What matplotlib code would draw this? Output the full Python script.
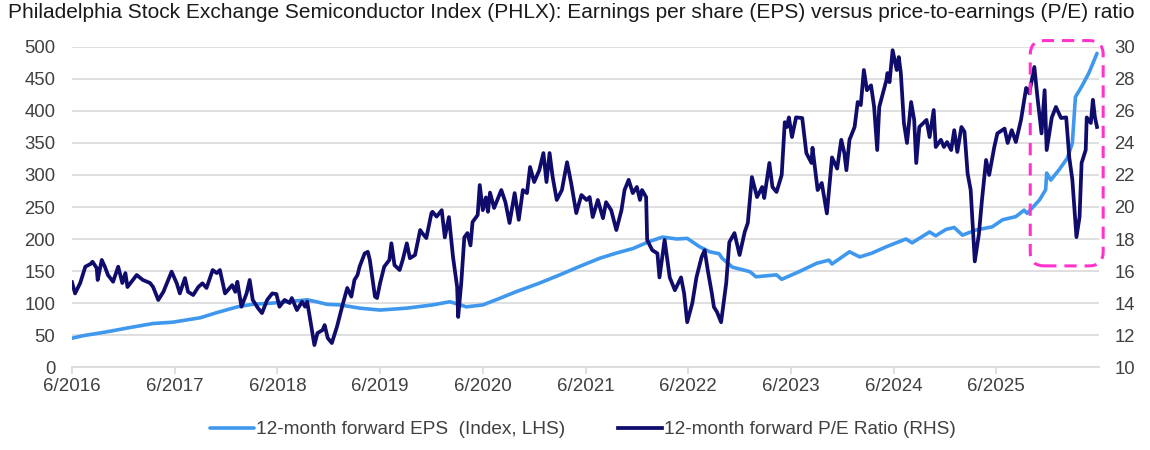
import matplotlib
matplotlib.use("Agg")
import matplotlib.pyplot as plt
from matplotlib.patches import FancyBboxPatch
from matplotlib.transforms import IdentityTransform

plt.rcParams["font.family"] = ["Liberation Sans", "DejaVu Sans"]

# time axis: years since 6/2016
EPS_T = [0.00, 0.11, 0.34, 0.54, 0.79, 0.98, 1.25, 1.41, 1.61, 1.76, 1.96, 2.29, 2.38, 2.48,
         2.61, 2.80, 3.00, 3.26, 3.51, 3.68, 3.84, 4.00, 4.16, 4.33, 4.55, 4.75, 4.94, 5.14,
         5.30, 5.46, 5.62, 5.75, 5.89, 5.99, 6.11, 6.21, 6.30, 6.33, 6.43, 6.60, 6.66, 6.86,
         6.91, 7.08, 7.25, 7.37, 7.40, 7.57, 7.67, 7.79, 7.93, 8.12, 8.18, 8.35, 8.41, 8.51,
         8.59, 8.67, 8.80, 8.96, 9.06, 9.19, 9.27, 9.30, 9.42, 9.48, 9.49, 9.53, 9.61, 9.69,
         9.74, 9.77, 9.83, 9.90, 9.98]
EPS = [45, 49, 55, 61, 68, 70, 77, 85, 94, 98, 100, 105, 102, 98,
       97, 92, 89, 92, 97, 102, 94, 97, 107, 118, 131, 144, 157, 170,
       178, 185, 196, 203, 200, 201, 188, 180, 177, 170, 156, 149, 141, 144,
       137, 149, 162, 167, 161, 180, 172, 178, 188, 200, 194, 211, 205, 215,
       218, 206, 214, 219, 230, 235, 245, 240, 261, 277, 303, 292, 308, 326,
       350, 422, 438, 459, 490]

PE_T = [0.00, 0.03, 0.08, 0.13, 0.18, 0.20, 0.24, 0.25, 0.29, 0.32, 0.35, 0.40, 0.45, 0.49,
        0.52, 0.54, 0.63, 0.69, 0.76, 0.79, 0.84, 0.89, 0.97, 1.02, 1.05, 1.10, 1.13, 1.18,
        1.23, 1.27, 1.31, 1.37, 1.41, 1.44, 1.49, 1.56, 1.59, 1.61, 1.65, 1.70, 1.73, 1.76,
        1.81, 1.85, 1.90, 1.95, 1.99, 2.02, 2.07, 2.12, 2.14, 2.19, 2.24, 2.27, 2.29, 2.32,
        2.36, 2.39, 2.44, 2.46, 2.49, 2.53, 2.58, 2.63, 2.68, 2.72, 2.75, 2.78, 2.80, 2.85,
        2.88, 2.90, 2.95, 2.97, 3.00, 3.04, 3.09, 3.11, 3.14, 3.19, 3.22, 3.26, 3.29, 3.34,
        3.39, 3.41, 3.45, 3.50, 3.51, 3.55, 3.60, 3.63, 3.67, 3.71, 3.75, 3.76, 3.79, 3.82,
        3.85, 3.88, 3.90, 3.95, 3.97, 4.00, 4.03, 4.05, 4.07, 4.11, 4.18, 4.22, 4.26, 4.31,
        4.35, 4.39, 4.43, 4.46, 4.50, 4.55, 4.59, 4.62, 4.65, 4.68, 4.72, 4.77, 4.82, 4.86,
        4.91, 4.96, 5.01, 5.04, 5.07, 5.12, 5.17, 5.20, 5.25, 5.30, 5.35, 5.38, 5.42, 5.46,
        5.50, 5.53, 5.55, 5.59, 5.60, 5.65, 5.70, 5.72, 5.77, 5.82, 5.87, 5.93, 5.96, 5.99,
        6.04, 6.08, 6.13, 6.16, 6.19, 6.23, 6.25, 6.28, 6.32, 6.37, 6.40, 6.45, 6.50, 6.55,
        6.58, 6.62, 6.67, 6.72, 6.74, 6.79, 6.82, 6.86, 6.91, 6.94, 6.96, 6.98, 7.01, 7.05,
        7.11, 7.15, 7.20, 7.21, 7.26, 7.30, 7.35, 7.40, 7.45, 7.49, 7.52, 7.54, 7.57, 7.62,
        7.65, 7.68, 7.71, 7.74, 7.78, 7.81, 7.84, 7.86, 7.93, 7.94, 7.96, 7.99, 8.03, 8.05,
        8.07, 8.10, 8.13, 8.17, 8.20, 8.22, 8.25, 8.32, 8.35, 8.39, 8.41, 8.46, 8.49, 8.52,
        8.56, 8.59, 8.62, 8.66, 8.69, 8.72, 8.75, 8.79, 8.83, 8.86, 8.90, 8.93, 8.98, 9.01,
        9.08, 9.11, 9.15, 9.19, 9.24, 9.29, 9.32, 9.37, 9.40, 9.44, 9.47, 9.49, 9.54, 9.58,
        9.63, 9.68, 9.71, 9.74, 9.78, 9.81, 9.83, 9.87, 9.88, 9.92, 9.94, 9.96, 9.98]
PE = [15.3, 14.6, 15.25, 16.27, 16.44, 16.58, 16.19, 15.44, 16.69, 16.27, 15.75, 15.33, 16.27, 15.25,
      15.87, 15.0, 15.75, 15.44, 15.25, 15.0, 14.19, 14.7, 15.96, 15.23, 14.6, 15.56, 14.7, 14.5,
      15.0, 15.23, 14.94, 16.06, 15.87, 16.06, 14.6, 15.12, 14.7, 15.33, 13.77, 14.6, 15.44, 14.19,
      13.69, 13.37, 14.19, 14.6, 14.56, 13.77, 14.19, 14.0, 14.31, 13.56, 14.08, 13.77, 14.08, 12.94,
      11.37, 12.12, 12.31, 12.62, 11.81, 11.5, 12.52, 13.77, 14.94, 14.4, 15.44, 15.75, 16.27, 17.1,
      17.2, 16.69, 14.4, 14.31, 15.25, 16.27, 16.69, 17.73, 16.37, 16.06, 16.69, 17.73, 16.8, 17.0,
      18.56, 18.37, 18.06, 19.62, 19.7, 19.4, 19.8, 18.1, 19.37, 16.87, 15.0, 13.13, 15.25, 18.1,
      18.37, 17.6, 19.06, 19.5, 21.37, 19.8, 20.6, 19.7, 20.9, 19.94, 21.06, 20.3, 19.0, 20.87,
      19.2, 21.06, 20.87, 22.5, 21.56, 22.3, 23.37, 21.56, 23.37, 21.87, 20.44, 21.06, 22.8, 21.5,
      19.62, 20.75, 20.44, 20.62, 19.37, 20.44, 19.3, 20.3, 19.8, 18.56, 19.8, 21.06, 21.7, 20.87,
      21.25, 20.44, 21.06, 20.62, 17.94, 17.3, 17.1, 15.6, 17.94, 15.6, 14.8, 15.6, 14.6, 12.8,
      14.0, 15.6, 16.87, 17.3, 16.06, 14.6, 13.75, 13.44, 12.8, 15.25, 17.8, 18.37, 17.0, 18.44,
      19.0, 21.87, 20.62, 21.25, 20.56, 22.75, 21.25, 20.94, 22.0, 25.3, 25.0, 25.6, 24.37, 25.6,
      25.56, 23.37, 22.75, 23.7, 21.06, 21.5, 19.6, 23.1, 22.4, 24.2, 23.37, 22.3, 24.2, 25.0,
      26.56, 26.37, 28.56, 27.3, 27.6, 26.25, 23.56, 26.25, 27.94, 28.37, 27.8, 29.8, 28.56, 29.37,
      28.37, 25.25, 24.0, 26.56, 25.44, 22.75, 25.0, 25.44, 24.37, 26.06, 23.75, 24.2, 23.75, 24.06,
      23.56, 24.8, 23.44, 25.0, 24.7, 22.1, 21.06, 16.6, 18.3, 20.44, 22.94, 22.0, 23.75, 24.6,
      24.9, 24.0, 24.8, 24.06, 25.44, 27.44, 27.1, 28.75, 26.87, 24.6, 27.3, 23.56, 25.6, 26.25,
      25.56, 25.6, 23.1, 21.7, 18.12, 19.37, 22.75, 23.56, 25.6, 25.25, 26.7, 25.6, 25.0]

X_LABELS = ["6/2016", "6/2017", "6/2018", "6/2019", "6/2020",
            "6/2021", "6/2022", "6/2023", "6/2024", "6/2025"]

TITLE = ("Philadelphia Stock Exchange Semiconductor Index (PHLX): Earnings per share (EPS) "
         "versus price-to-earnings (P/E) ratio")

EPS_COLOR = "#3F98EE"
PE_COLOR = "#100C6C"
GRID = "#D9D9D9"
TXT = "#404040"

fig = plt.figure(figsize=(11.5, 4.5), dpi=100)
ax = fig.add_axes([0.0626, 0.1844, 0.8931, 0.7112])
ax2 = ax.twinx()

ax.plot(EPS_T, EPS, color=EPS_COLOR, lw=2.6, solid_capstyle="round", label="12-month forward EPS  (Index, LHS)")
ax2.plot(PE_T, PE, color=PE_COLOR, lw=2.7, solid_joinstyle="round", label="12-month forward P/E Ratio (RHS)")

ax.set_xlim(0, 10.0)
ax.set_ylim(0, 500)
ax2.set_ylim(10, 30)
ax.set_yticks(range(0, 501, 50))
ax2.set_yticks(range(10, 31, 2))
ax.set_xticks(range(len(X_LABELS)))
ax.set_xticklabels(X_LABELS)

for a in (ax, ax2):
    for s in a.spines.values():
        s.set_visible(False)
ax.spines["bottom"].set_visible(True)
ax.spines["bottom"].set_color(GRID)
ax.spines["bottom"].set_linewidth(1.2)

ax.grid(axis="y", color=GRID, lw=1.2)
ax.set_axisbelow(True)
ax.tick_params(axis="y", length=0, pad=12, labelsize=13.3, labelcolor=TXT)
ax2.tick_params(axis="y", length=0, pad=11, labelsize=13.3, labelcolor=TXT)
ax.tick_params(axis="x", length=5, width=1.2, color=GRID, pad=3, labelsize=13.5, labelcolor=TXT)

fig.text(0.007, 0.972, TITLE, fontsize=15, color="#1a1a1a", va="center", ha="left")

# highlighted recent period
fig.canvas.draw()
p0 = ax.transData.transform((9.33, 158))
p1 = ax.transData.transform((10.04, 510))
box = FancyBboxPatch((p0[0], p0[1]), p1[0] - p0[0], p1[1] - p0[1],
                     boxstyle="round,pad=0,rounding_size=14", transform=IdentityTransform(),
                     fill=False, edgecolor="#FF33CC", lw=2.2, linestyle=(0, (4, 2.6)),
                     clip_on=False, zorder=5)
fig.add_artist(box)

h1, l1 = ax.get_legend_handles_labels()
h2, l2 = ax2.get_legend_handles_labels()
fig.legend(h1 + h2, l1 + l2, loc="center", bbox_to_anchor=(0.507, 0.045), ncol=2, frameon=False,
           fontsize=13.7, handlelength=2.3, handletextpad=0.1, columnspacing=2.8,
           labelcolor=TXT)

fig.savefig("out.png", dpi=100)
